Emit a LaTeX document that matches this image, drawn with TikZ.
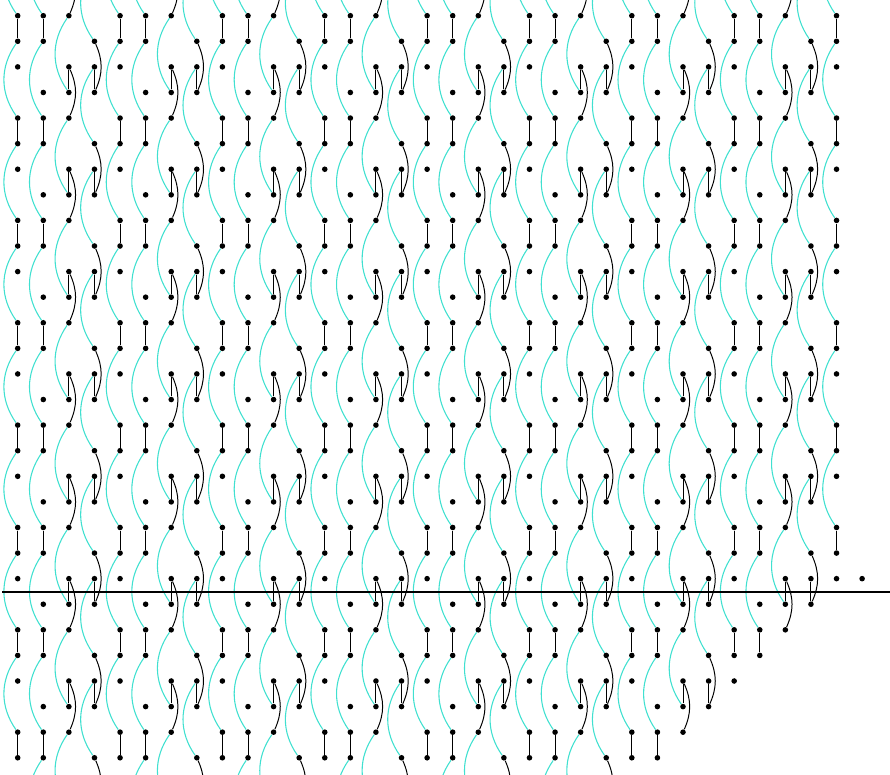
\documentclass[tikz,border=0pt]{standalone}
\begin{document}
\begin{tikzpicture}[x=0.5cm,y=0.5cm]
  \definecolor{strand}{HTML}{40E0D0}
  \path[use as bounding box] (-0.692,0.614) rectangle (34.09,-29.67);
  \clip (-0.692,0.614) rectangle (34.09,-29.67);

  \tikzset{dot/.style={circle,fill=black,inner sep=0pt,minimum size=3.1pt},
           rung/.style={black,line width=0.55pt},
           kink/.style={black,line width=0.55pt,bend left=24},
           swing/.style={strand,line width=0.6pt,bend right=35},
           cut/.style={black,line width=1pt}}

  % the dots: in column type t the row with r mod 4 = 3-t is left out
  \foreach \c in {0,...,32}{
    \pgfmathtruncatemacro\t{mod(\c,4)}
    \pgfmathtruncatemacro\last{\c>24 ? 54-\c : (\t==0 ? 29 : 33)}
    \foreach \r in {-4,...,\last}{
      \pgfmathtruncatemacro\rr{mod(\r+8,4)}
      \ifnum\rr=\numexpr3-\t\relax\else
        \node[dot] (v\c-\r) at (\c,-\r) {};
      \fi
    }
  }
  \node[dot] (v33-22) at (33,-22) {};

  % the connectors of each column
  \foreach \c in {0,...,32}{
    \pgfmathtruncatemacro\t{mod(\c,4)}
    \pgfmathtruncatemacro\last{\c>24 ? 54-\c : (\t==0 ? 29 : 33)}
    \foreach \r in {-4,...,\last}{
      \pgfmathtruncatemacro\rr{mod(\r+8,4)}
      \pgfmathtruncatemacro\one{\r+1}
      \pgfmathtruncatemacro\two{\r+2}
      \pgfmathtruncatemacro\three{\r+3}
      \pgfmathtruncatemacro\hasswing{((\t<2 && \rr==1) || (\t==2 && \rr==0) || (\t==3 && \rr==2)) && \three<=\last}
      \pgfmathtruncatemacro\hasrung{((\t<2 && \rr==0) || (\t>1 && \rr==2)) && \one<=\last}
      \pgfmathtruncatemacro\haskink{((\t==2 && \rr==2) || (\t==3 && \rr==1)) && \two<=\last}
      \ifnum\hasswing=1 \draw[swing] (v\c-\r) to (v\c-\three); \fi
      \ifnum\hasrung=1 \draw[rung] (v\c-\r) -- (v\c-\one); \fi
      \ifnum\haskink=1 \draw[kink] (v\c-\r) to (v\c-\two); \fi
    }
  }

  \coordinate (cutL) at (-0.6,-22.53);
  \coordinate (cutR) at (34.2,-22.53);
  \draw[cut] (cutL) -- (cutR);
\end{tikzpicture}
\end{document}
